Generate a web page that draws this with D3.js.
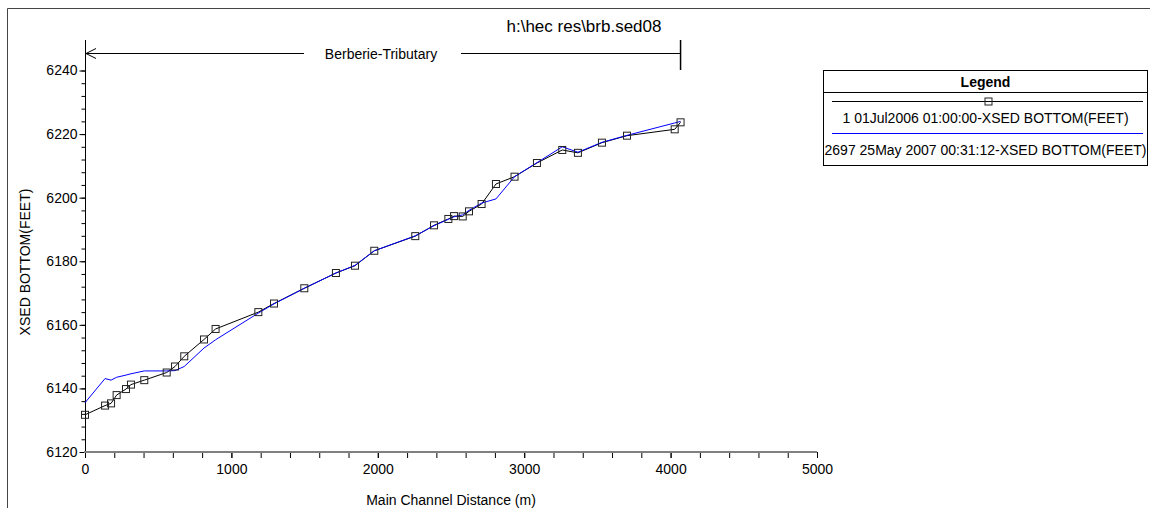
<!DOCTYPE html>
<html>
<head>
<meta charset="utf-8">
<script src="https://cdn.jsdelivr.net/npm/d3@7"></script>
<style>
  body { margin: 0; background: #fff; }
  text { font-family: "Liberation Sans", Arial, sans-serif; fill: #000; }
</style>
</head>
<body>
<svg id="chart"></svg>
<script>
// chart data
var stations = [0, 137, 178, 216, 280, 314, 405, 558, 615, 678, 813, 892, 1184, 1291, 1498, 1714, 1844,
  1976, 2256, 2384, 2482, 2521, 2580, 2623, 2709, 2807, 2934, 3087, 3260, 3367, 3531, 3702, 4028, 4068];
var bed2006 = [6131.7, 6134.6, 6135.3, 6137.9, 6139.8, 6141.2, 6142.6, 6145.0, 6146.9, 6150.1, 6155.4, 6158.7,
  6164.0, 6166.7, 6171.5, 6176.3, 6178.6, 6183.3, 6187.9, 6191.3, 6193.3, 6194.2, 6194.1, 6195.7, 6198.0,
  6204.3, 6206.6, 6210.9, 6215.0, 6214.1, 6217.3, 6219.5, 6221.5, 6223.7];
var bed2007 = [6135.5, 6143.1, 6142.6, 6143.5, 6144.2, 6144.6, 6145.5, 6145.5, 6145.6, 6146.9, 6152.7, 6155.3,
  6163.7, 6166.6, 6171.5, 6176.3, 6178.7, 6183.3, 6188.0, 6191.2, 6193.2, 6194.0, 6194.6, 6196.0, 6198.3,
  6199.6, 6206.6, 6211.0, 6216.0, 6214.3, 6217.4, 6219.6, 6223.5, 6224.0];
var seriesNames = ["1 01Jul2006 01:00:00-XSED BOTTOM(FEET)", "2697 25May 2007 00:31:12-XSED BOTTOM(FEET)"];
var xMajor = [0, 1000, 2000, 3000, 4000, 5000];
var yMajor = [6120, 6140, 6160, 6180, 6200, 6220, 6240];
var reachName = "Berberie-Tributary";
var reachEnd = 4068;

var width = 1150, height = 508;
var svg = d3.select("#chart").attr("width", width).attr("height", height);

var xScale = d3.scaleLinear().domain([0, 5000]).range([85, 817]),
    yScale = d3.scaleLinear().domain([6120, 6240]).range([452, 70.5]);

// outer frame (top + left only)
svg.append("path").attr("d", "M7.5,508 L7.5,8.5 L1150,8.5")
  .attr("fill", "none").attr("stroke", "#444").attr("stroke-width", 1);

// title
svg.append("text").attr("x", 584).attr("y", 32).attr("text-anchor", "middle")
  .style("font-size", "17px").text("h:\\hec res\\brb.sed08");

// y axis: line runs above the top tick
svg.append("line").attr("x1", 85.5).attr("x2", 85.5).attr("y1", 40).attr("y2", 452)
  .attr("stroke", "#000");
var yMinor = d3.range(6120, 6241, 4);
svg.append("g").attr("transform", "translate(85.5,0)")
  .call(d3.axisLeft(yScale).tickValues(yMinor).tickSize(4).tickFormat(""))
  .call(function(g) { g.select(".domain").remove(); });
svg.append("g").attr("transform", "translate(85.5,0)")
  .call(d3.axisLeft(yScale).tickValues(yMajor).tickSize(6).tickPadding(2).tickFormat(d3.format("d")))
  .call(function(g) {
    g.select(".domain").remove();
    g.selectAll("text").style("font-size", "14px").style("font-family", "Liberation Sans, Arial, sans-serif");
  });

// x axis
var xMinor = d3.range(0, 5001, 200);
svg.append("g").attr("transform", "translate(0,452)")
  .call(d3.axisBottom(xScale).tickValues(xMinor).tickSize(6).tickFormat(""))
  .call(function(g) { g.select(".domain").remove(); });
svg.append("g").attr("transform", "translate(0,452)")
  .call(d3.axisBottom(xScale).tickValues(xMajor).tickSize(6).tickPadding(6).tickFormat(d3.format("d")))
  .call(function(g) {
    g.select(".domain").remove();
    g.selectAll("text").style("font-size", "14px").style("font-family", "Liberation Sans, Arial, sans-serif");
  });
svg.append("line").attr("x1", 84).attr("x2", 817).attr("y1", 452).attr("y2", 452)
  .attr("stroke", "#808080").attr("stroke-width", 2);

// axis titles
svg.append("text").attr("transform", "translate(30,262) rotate(-90)").attr("text-anchor", "middle")
  .style("font-size", "14px").text("XSED BOTTOM(FEET)");
svg.append("text").attr("x", 451).attr("y", 505).attr("text-anchor", "middle")
  .style("font-size", "14px").text("Main Channel Distance (m)");

// reach arrow
var arrowY = 53.5;
svg.append("text").attr("x", 381).attr("y", arrowY + 5)
  .attr("text-anchor", "middle").style("font-size", "14px").text(reachName);
svg.append("line").attr("x1", xScale(0)).attr("x2", 304).attr("y1", arrowY).attr("y2", arrowY)
  .attr("stroke", "#000");
svg.append("line").attr("x1", 461).attr("x2", xScale(reachEnd)).attr("y1", arrowY).attr("y2", arrowY)
  .attr("stroke", "#000");
svg.append("path")
  .attr("d", "M" + (xScale(0) + 11) + "," + (arrowY - 5) + " L" + (xScale(0) + 1) + "," + arrowY +
    " L" + (xScale(0) + 11) + "," + (arrowY + 5))
  .attr("fill", "none").attr("stroke", "#000");
svg.append("line").attr("x1", xScale(reachEnd)).attr("x2", xScale(reachEnd)).attr("y1", 40).attr("y2", 70)
  .attr("stroke", "#000").attr("stroke-width", 1.5);

// profiles
var profileLine = d3.line().x(function(d, i) { return xScale(stations[i]); }).y(function(d) { return yScale(d); });
svg.append("path").datum(bed2006).attr("d", profileLine)
  .attr("fill", "none").attr("stroke", "#000").attr("stroke-width", 1);
svg.append("path").datum(bed2007).attr("d", profileLine)
  .attr("fill", "none").attr("stroke", "#0000ff").attr("stroke-width", 1);
svg.selectAll(".mark").data(bed2006).enter().append("rect")
  .attr("class", "mark")
  .attr("x", function(d, i) { return xScale(stations[i]) - 3.5; })
  .attr("y", function(d) { return yScale(d) - 3.5; })
  .attr("width", 7).attr("height", 7)
  .attr("fill", "none").attr("stroke", "#222").attr("stroke-width", 1);

// legend
var lg = svg.append("g");
lg.append("rect").attr("x", 823.5).attr("y", 70.5).attr("width", 324).attr("height", 95)
  .attr("fill", "#fff").attr("stroke", "#000");
lg.append("line").attr("x1", 823.5).attr("x2", 1147.5).attr("y1", 92.5).attr("y2", 92.5).attr("stroke", "#000");
lg.append("text").attr("x", 985.5).attr("y", 87).attr("text-anchor", "middle")
  .style("font-size", "14px").style("font-weight", "bold").text("Legend");
var legendColors = ["#000", "#0000ff"];
var legendLineY = [101.5, 133.5];
seriesNames.forEach(function(name, i) {
  lg.append("line").attr("x1", 832).attr("x2", 1143).attr("y1", legendLineY[i]).attr("y2", legendLineY[i])
    .attr("stroke", legendColors[i]);
  lg.append("text").attr("x", 985.5).attr("y", legendLineY[i] + 21).attr("text-anchor", "middle")
    .style("font-size", "14px").text(name);
});
lg.append("rect").attr("x", 985).attr("y", 98).attr("width", 7).attr("height", 7)
  .attr("fill", "none").attr("stroke", "#222");
</script>
</body>
</html>
